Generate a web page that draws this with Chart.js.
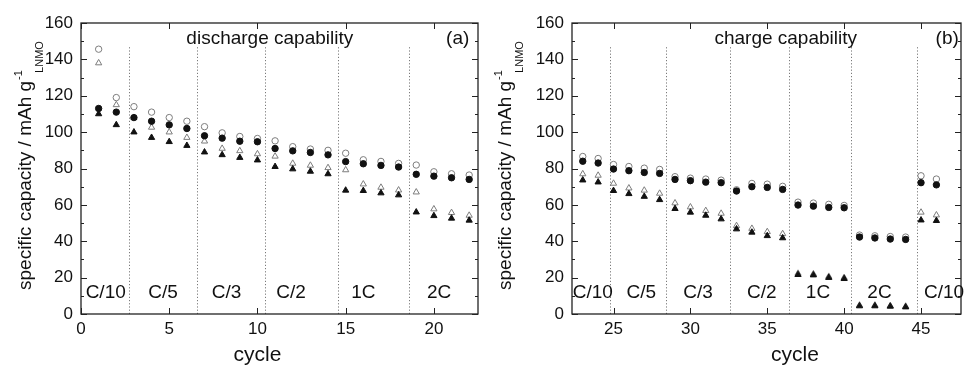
<!DOCTYPE html>
<html>
<head>
<meta charset="utf-8">
<script src="https://cdn.jsdelivr.net/npm/chart.js@4.4.0/dist/chart.umd.min.js"></script>
<style>
  html, body { margin: 0; padding: 0; background: #fff; }
  #wrap { position: relative; width: 966px; height: 367px; overflow: hidden; }
  .panel { position: absolute; top: 0; width: 483px; height: 367px; }
</style>
</head>
<body>
<div id="wrap">
  <div class="panel" style="left:0"><canvas id="left" width="483" height="367"></canvas></div>
  <div class="panel" style="left:483px"><canvas id="right" width="483" height="367"></canvas></div>
</div>
<script>
// (a) discharge capability, cycles 1-22
const leftCycles = [1, 2, 3, 4, 5, 6, 7, 8, 9, 10, 11, 12, 13, 14, 15, 16, 17, 18, 19, 20, 21, 22];
const leftOpenCircle = [145.6, 119, 114, 111, 108, 106, 103, 99.6, 97.6, 96.5, 95.2, 92, 90.7, 90, 88.4, 84.8, 83.9, 82.8, 81.9, 78.2, 77.1, 76.4];
const leftOpenTri = [138, 115, 108, 102.6, 100, 97, 95, 91, 89.7, 88, 86.7, 82.8, 81.7, 80.4, 79.2, 71.4, 69.6, 68.1, 67, 57.7, 55.7, 54.2];
const leftFilledCircle = [113, 111, 108, 106, 104, 102, 98, 96.7, 95, 94.7, 91, 89.7, 88.8, 87.5, 83.8, 82.6, 81.7, 80.8, 76.8, 75.8, 74.9, 74];
const leftFilledTri = [110, 104, 100, 97, 94.7, 92.6, 89, 87.5, 86, 84.6, 81, 79.7, 78.4, 77, 68, 67.8, 66.5, 65.4, 56, 54, 52.6, 51.5];
const leftRates = ["C/10", "C/5", "C/3", "C/2", "1C", "2C"];
const leftRateX = [1.4, 4.65, 8.25, 11.9, 16.0, 20.3];
const leftDividers = [2.7, 6.6, 10.45, 14.57, 18.57];

// (b) charge capability, cycles 23-46
const rightCycles = [23, 24, 25, 26, 27, 28, 29, 30, 31, 32, 33, 34, 35, 36, 37, 38, 39, 40, 41, 42, 43, 44, 45, 46];
const rightOpenCircle = [86.6, 85.5, 82.2, 81.1, 80.2, 79.5, 75.5, 74.7, 74.2, 73.6, 68.3, 71.8, 71.4, 70.2, 61.5, 61, 60.3, 59.7, 43.4, 43, 42.6, 42.3, 76, 74.2];
const rightOpenTri = [77, 76.2, 71.8, 69.2, 68, 66.3, 61, 58.8, 56.8, 55.3, 48.5, 47, 45.2, 44.1, 22.3, 22, 20.6, 20, 4.8, 4.8, 4.5, 4.2, 55.9, 54.4];
const rightFilledCircle = [84, 83, 79.7, 78.8, 77.8, 77.3, 74, 73.3, 72.5, 72.2, 67.6, 70, 69.6, 68.5, 59.9, 59.3, 58.6, 58.4, 42.3, 41.8, 41.2, 41, 72.2, 71];
const rightFilledTri = [73.6, 72.5, 67.8, 66.1, 64.6, 62.8, 57.9, 55.9, 54.2, 52.2, 46.7, 44.9, 43, 41.8, 21.6, 21.4, 20, 19.4, 4.4, 4.4, 4.2, 3.8, 51.6, 51.3];
const rightRates = ["C/10", "C/5", "C/3", "C/2", "1C", "2C", "C/10"];
const rightRateX = [23.65, 26.8, 30.5, 34.65, 38.3, 42.3, 46.5];
const rightDividers = [24.75, 28.4, 32.55, 36.4, 40.47, 44.72];

const FONT = 'Arial, "Liberation Sans", sans-serif';

const panelPlugin = {
  id: "panel",
  beforeDatasetsDraw(chart) {
    const p = chart.options.plugins.panel;
    const { ctx, chartArea: a } = chart;
    const x = chart.scales.x, y = chart.scales.y;
    ctx.save();
    // rate dividers
    ctx.strokeStyle = "#7a7a7a";
    ctx.lineWidth = 1;
    ctx.setLineDash([1.2, 2]);
    p.dividers.forEach((v) => {
      const px = Math.round(x.getPixelForValue(v)) + 0.5;
      ctx.beginPath();
      ctx.moveTo(px, y.getPixelForValue(0));
      ctx.lineTo(px, y.getPixelForValue(147));
      ctx.stroke();
    });
    ctx.setLineDash([]);
    // frame
    ctx.strokeStyle = "#222";
    ctx.lineWidth = 1.3;
    ctx.strokeRect(a.left, a.top, a.right - a.left, a.bottom - a.top);
    // inward ticks
    ctx.lineWidth = 1;
    x.ticks.forEach((t) => {
      const px = Math.round(x.getPixelForValue(t.value)) + 0.5;
      ctx.beginPath();
      ctx.moveTo(px, a.bottom); ctx.lineTo(px, a.bottom - 6);
      ctx.moveTo(px, a.top); ctx.lineTo(px, a.top + 6);
      ctx.stroke();
    });
    for (let v = y.min; v <= y.max; v += 10) {
      const py = Math.round(y.getPixelForValue(v)) + 0.5;
      const len = v % 20 === 0 ? 6 : 3;
      ctx.beginPath();
      ctx.moveTo(a.left, py); ctx.lineTo(a.left + len, py);
      ctx.moveTo(a.right, py); ctx.lineTo(a.right - len, py);
      ctx.stroke();
    }
    ctx.restore();
  },
  afterDraw(chart) {
    const p = chart.options.plugins.panel;
    const { ctx } = chart;
    const x = chart.scales.x, y = chart.scales.y;
    ctx.save();
    ctx.fillStyle = "#111";
    ctx.textAlign = "center";
    ctx.textBaseline = "middle";
    ctx.font = "19px " + FONT;
    p.rates.forEach((r, i) => {
      ctx.fillText(r, x.getPixelForValue(p.rateX[i]), y.getPixelForValue(11.5));
    });
    ctx.fillText(p.title, x.getPixelForValue(p.titleX), y.getPixelForValue(151.6));
    ctx.fillText(p.tag, x.getPixelForValue(p.tagX), y.getPixelForValue(151.6));
    // x axis title
    ctx.textBaseline = "alphabetic";
    ctx.font = "21px " + FONT;
    ctx.fillText("cycle", x.getPixelForValue(p.cycleX), 361);
    // y axis title with super/subscript
    ctx.translate(p.yTitleX, 290);
    ctx.rotate(-Math.PI / 2);
    ctx.textAlign = "left";
    ctx.font = "19px " + FONT;
    const main = "specific capacity / mAh g";
    ctx.fillText(main, 0, 0);
    const w = ctx.measureText(main).width;
    ctx.font = "11px " + FONT;
    ctx.fillText("-1", w + 1, -9);
    ctx.fillText("LNMO", w + 8, 12);
    ctx.restore();
  },
};

function series(label, xs, ys, style, filled, order) {
  return {
    label,
    data: xs.map((c, i) => ({ x: c, y: ys[i] })),
    showLine: false,
    pointStyle: style,
    pointRadius: style === "triangle" ? 3.6 : 3.2,
    pointBackgroundColor: filled ? "#111" : "rgba(0,0,0,0)",
    pointBorderColor: filled ? "#111" : "#7d7d7d",
    pointBorderWidth: 1,
    order,
  };
}

function makePanel(id, cfg) {
  new Chart(document.getElementById(id), {
    type: "scatter",
    data: {
      datasets: [
        series("filled circle", cfg.cycles, cfg.fc, "circle", true, 0),
        series("filled triangle", cfg.cycles, cfg.ft, "triangle", true, 1),
        series("open circle", cfg.cycles, cfg.oc, "circle", false, 2),
        series("open triangle", cfg.cycles, cfg.ot, "triangle", false, 3),
      ],
    },
    options: {
      responsive: false,
      animation: false,
      layout: { padding: { top: 23, right: cfg.padRight, left: 0, bottom: 0 } },
      scales: {
        x: {
          type: "linear",
          min: cfg.xMin,
          max: cfg.xMax,
          grid: { display: false, drawTicks: false },
          border: { display: false },
          ticks: {
            stepSize: 5, includeBounds: false, autoSkip: false, maxRotation: 0,
            padding: 5, color: "#111", font: { size: 17, family: FONT },
          },
          afterBuildTicks: (s) => { s.ticks = s.ticks.filter((t) => Math.abs(t.value % 5) < 1e-6); },
          afterFit: (s) => { s.height = 53; },
        },
        y: {
          min: 0,
          max: 160,
          grid: { display: false, drawTicks: false },
          border: { display: false },
          ticks: { stepSize: 20, padding: 8, color: "#111", font: { size: 17, family: FONT } },
          afterFit: (s) => { s.width = cfg.yWidth; },
        },
      },
      plugins: {
        legend: { display: false },
        tooltip: { enabled: false },
        panel: {
          dividers: cfg.dividers,
          rates: cfg.rates,
          rateX: cfg.rateX,
          title: cfg.title,
          titleX: cfg.titleX,
          tag: cfg.tag,
          tagX: cfg.tagX,
          cycleX: cfg.cycleX,
          yTitleX: cfg.yTitleX,
        },
      },
    },
    plugins: [panelPlugin],
  });
}

makePanel("left", {
  cycles: leftCycles, oc: leftOpenCircle, ot: leftOpenTri, fc: leftFilledCircle, ft: leftFilledTri,
  xMin: 0, xMax: 22.5, yWidth: 81, padRight: 5,
  dividers: leftDividers, rates: leftRates, rateX: leftRateX,
  title: "discharge capability", titleX: 10.7, tag: "(a)", tagX: 21.35, cycleX: 10, yTitleX: 31,
});

makePanel("right", {
  cycles: rightCycles, oc: rightOpenCircle, ot: rightOpenTri, fc: rightFilledCircle, ft: rightFilledTri,
  xMin: 22.3, xMax: 47.6, yWidth: 89, padRight: 0,
  dividers: rightDividers, rates: rightRates, rateX: rightRateX,
  title: "charge capability", titleX: 36.2, tag: "(b)", tagX: 46.7, cycleX: 36.8, yTitleX: 28,
});
</script>
</body>
</html>
